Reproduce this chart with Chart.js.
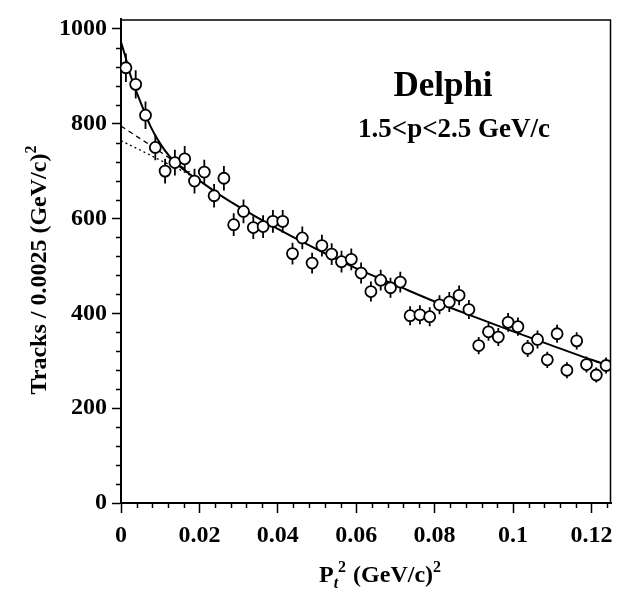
<!DOCTYPE html>
<html>
<head>
<meta charset="utf-8">
<script src="https://cdn.jsdelivr.net/npm/chart.js@4/dist/chart.umd.min.js"></script>
<style>
  html, body { margin: 0; padding: 0; background: #fff; }
  #wrap { width: 622px; height: 596px; }
</style>
</head>
<body>
<div id="wrap"><canvas id="c"></canvas></div>
<script>
// bin centres of pt^2 (bins of 0.0025)
const ptBins = [0.00125, 0.00375, 0.00625, 0.00875, 0.01125, 0.01375, 0.01625, 0.01875, 0.02125, 0.02375,
  0.02625, 0.02875, 0.03125, 0.03375, 0.03625, 0.03875, 0.04125, 0.04375, 0.04625, 0.04875,
  0.05125, 0.05375, 0.05625, 0.05875, 0.06125, 0.06375, 0.06625, 0.06875, 0.07125, 0.07375,
  0.07625, 0.07875, 0.08125, 0.08375, 0.08625, 0.08875, 0.09125, 0.09375, 0.09625, 0.09875,
  0.10125, 0.10375, 0.10625, 0.10875, 0.11125, 0.11375, 0.11625, 0.11875, 0.12125, 0.12375];
const tracks = [918, 883, 818, 750, 700, 718, 726, 679, 698, 648,
  685, 587, 615, 581, 583, 594, 594, 526, 559, 506,
  543, 525, 509, 514, 485, 446, 470, 454, 466, 395,
  397, 393, 418, 424, 438, 408, 332, 361, 350, 381,
  372, 326, 345, 302, 357, 280, 342, 292, 270, 290];
const trackErr = [30, 30, 29, 27, 26, 27, 27, 26, 26, 25,
  26, 24, 25, 24, 24, 24, 24, 23, 24, 22,
  23, 23, 23, 23, 22, 21, 22, 21, 22, 20,
  20, 20, 20, 21, 21, 20, 18, 19, 19, 20,
  19, 18, 19, 17, 19, 17, 18, 17, 16, 17];

// fitted curve
const fitX = [0, 0.001, 0.0025, 0.005, 0.0075, 0.01, 0.0125, 0.015, 0.0175, 0.02, 0.025, 0.03,
  0.04, 0.05, 0.06, 0.07, 0.08, 0.09, 0.1, 0.11, 0.12, 0.125];
const fitY = [972, 945, 900, 845, 795, 758, 730, 710, 694, 680, 651, 625,
  578, 535, 495, 460, 425, 393, 362, 332, 302, 288];

// the two dashed components at low pt^2
const dashAX = [0, 0.005, 0.01, 0.015, 0.0175];
const dashAY = [795, 768, 741, 712, 698];
const dashBX = [0, 0.005, 0.01, 0.015, 0.02];
const dashBY = [764, 744, 723, 703, 681];

const xTicks = [0, 0.02, 0.04, 0.06, 0.08, 0.1, 0.12];
const yTicks = [0, 200, 400, 600, 800, 1000];

const serif = '"Liberation Serif", "Times New Roman", serif';

const pts = (xs, ys) => xs.map((x, i) => ({ x: x, y: ys[i] }));

function richText(ctx, parts, x, y) {
  let w = 0;
  parts.forEach(p => { ctx.font = p.font; w += ctx.measureText(p.t).width + (p.gap || 0); });
  let cx = x - w / 2;
  parts.forEach(p => {
    ctx.font = p.font;
    ctx.fillText(p.t, cx, y + (p.dy || 0));
    cx += ctx.measureText(p.t).width + (p.gap || 0);
  });
}

const decor = {
  id: 'decor',
  beforeDatasetsDraw(chart) {
    const { ctx, scales: { x, y } } = chart;
    ctx.save();
    ctx.strokeStyle = '#000';
    ctx.lineWidth = 1.8;
    ctx.beginPath();
    ptBins.forEach((b, i) => {
      const px = x.getPixelForValue(b);
      ctx.moveTo(px, y.getPixelForValue(tracks[i] - trackErr[i]));
      ctx.lineTo(px, y.getPixelForValue(tracks[i] + trackErr[i]));
    });
    ctx.stroke();
    ctx.restore();
  },
  afterDraw(chart) {
    const { ctx, scales: { x, y }, chartArea: a } = chart;
    ctx.save();
    ctx.strokeStyle = '#000';
    ctx.lineWidth = 1.5;
    ctx.beginPath();
    for (let v = 40; v < 1020; v += 40) {
      if (v % 200 === 0) continue;
      const p = Math.round(y.getPixelForValue(v)) + 0.5;
      ctx.moveTo(a.left - 5, p); ctx.lineTo(a.left, p);
    }
    for (let k = 1; k * 0.004 <= 0.1245; k++) {
      if (k % 5 === 0) continue;
      const p = Math.round(x.getPixelForValue(k * 0.004)) + 0.5;
      ctx.moveTo(p, a.bottom); ctx.lineTo(p, a.bottom + 5);
    }
    ctx.stroke();
    // frame top and right
    ctx.lineWidth = 1.5;
    ctx.beginPath();
    ctx.moveTo(a.left, a.top + 0.5); ctx.lineTo(a.right, a.top + 0.5);
    ctx.moveTo(a.right - 0.5, a.top); ctx.lineTo(a.right - 0.5, a.bottom);
    ctx.stroke();

    ctx.fillStyle = '#000';
    ctx.textBaseline = 'alphabetic';
    ctx.textAlign = 'left';
    richText(ctx, [{ t: 'Delphi', font: 'bold 35px ' + serif }], 443, 96);
    richText(ctx, [{ t: '1.5<p<2.5 GeV/c', font: 'bold 27px ' + serif }], 454, 137);

    // x axis title
    richText(ctx, [
      { t: 'P', font: 'bold 24px ' + serif },
      { t: 't', font: 'italic bold 16px ' + serif, dy: 6 },
      { t: '2', font: 'bold 16px ' + serif, dy: -10, gap: 7 },
      { t: '(GeV/c)', font: 'bold 24px ' + serif },
      { t: '2', font: 'bold 16px ' + serif, dy: -10 }
    ], 380, 582);

    // y axis title
    ctx.translate(46, 270);
    ctx.rotate(-Math.PI / 2);
    richText(ctx, [
      { t: 'Tracks / 0.0025 (GeV/c)', font: 'bold 24px ' + serif },
      { t: '2', font: 'bold 16px ' + serif, dy: -10 }
    ], 0, 0);
    ctx.restore();
  }
};

new Chart(document.getElementById('c'), {
  type: 'scatter',
  data: {
    datasets: [
      {
        data: pts(ptBins, tracks),
        pointStyle: 'circle',
        pointRadius: 5.5,
        pointBorderWidth: 1.8,
        pointBorderColor: '#000',
        pointBackgroundColor: '#fff',
        showLine: false
      },
      {
        data: pts(fitX, fitY),
        showLine: true,
        borderColor: '#000',
        borderWidth: 2,
        pointRadius: 0,
        cubicInterpolationMode: 'monotone'
      },
      {
        data: pts(dashAX, dashAY),
        showLine: true,
        borderColor: '#000',
        borderWidth: 1.3,
        borderDash: [5, 4],
        pointRadius: 0
      },
      {
        data: pts(dashBX, dashBY),
        showLine: true,
        borderColor: '#000',
        borderWidth: 1.3,
        borderDash: [2, 3],
        pointRadius: 0
      }
    ]
  },
  options: {
    responsive: true,
    maintainAspectRatio: false,
    animation: false,
    layout: { padding: { top: 10, right: 11, left: 0, bottom: 0 } },
    plugins: { legend: { display: false }, tooltip: { enabled: false } },
    scales: {
      x: {
        type: 'linear',
        min: 0,
        max: 0.125,
        afterFit: s => { s.height = 93; },
        afterBuildTicks: s => { s.ticks = xTicks.map(v => ({ value: v })); },
        border: { color: '#000', width: 2 },
        grid: { drawOnChartArea: false, color: '#000', tickLength: 10, tickWidth: 1.5 },
        ticks: {
          color: '#000',
          padding: 8,
          maxRotation: 0,
          font: { family: serif, size: 24, weight: 'bold' },
          callback: v => String(Math.round(v * 1000) / 1000)
        }
      },
      y: {
        type: 'linear',
        min: 0,
        max: 1020,
        afterFit: s => { s.width = 121; },
        afterBuildTicks: s => { s.ticks = yTicks.map(v => ({ value: v })); },
        border: { color: '#000', width: 2 },
        grid: { drawOnChartArea: false, color: '#000', tickLength: 9, tickWidth: 1.5 },
        ticks: {
          color: '#000',
          padding: 5,
          font: { family: serif, size: 24, weight: 'bold' },
          callback: v => String(v)
        }
      }
    }
  },
  plugins: [decor]
});
</script>
</body>
</html>
